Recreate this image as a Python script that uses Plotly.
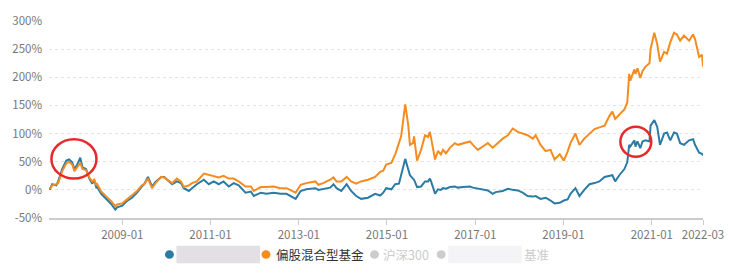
import plotly.graph_objects as go

dates = [
    "2007-05-10", "2007-06-01", "2007-07-04", "2007-07-20", "2007-08-22", "2007-09-25", "2007-10-19",
    "2007-11-13", "2007-12-01", "2007-12-25", "2008-01-19", "2008-02-06", "2008-03-07", "2008-04-03",
    "2008-04-27", "2008-05-13", "2008-06-01", "2008-06-07", "2008-07-10", "2008-08-22", "2008-10-01",
    "2008-11-04", "2008-11-19", "2009-01-01", "2009-02-12", "2009-03-22", "2009-05-03", "2009-06-12",
    "2009-07-01", "2009-08-01", "2009-09-04", "2009-10-07", "2009-11-19", "2009-12-13", "2010-01-22",
    "2010-02-18", "2010-03-28", "2010-05-01", "2010-05-25", "2010-07-06", "2010-08-01", "2010-09-10",
    "2010-11-07", "2010-12-18", "2011-01-28", "2011-03-10", "2011-04-19", "2011-06-01", "2011-07-12",
    "2011-08-22", "2011-10-18", "2011-12-01", "2011-12-25", "2012-02-21", "2012-04-10", "2012-06-06",
    "2012-08-03", "2012-09-21", "2012-12-06", "2013-01-16", "2013-03-04", "2013-05-18", "2013-06-12",
    "2013-07-22", "2013-09-18", "2013-10-15", "2013-11-09", "2013-12-19", "2014-02-01", "2014-03-10",
    "2014-04-21", "2014-06-01", "2014-07-28", "2014-09-25", "2014-11-06", "2014-12-01", "2014-12-25",
    "2015-02-06", "2015-03-10", "2015-04-10", "2015-04-28", "2015-06-01", "2015-06-25", "2015-07-10",
    "2015-08-04", "2015-08-13", "2015-09-07", "2015-10-10", "2015-11-12", "2015-12-07", "2015-12-22",
    "2016-01-01", "2016-02-03", "2016-02-27", "2016-03-22", "2016-04-09", "2016-05-03", "2016-06-06",
    "2016-07-16", "2016-08-10", "2016-09-21", "2016-11-18", "2016-12-12", "2017-01-22", "2017-03-04",
    "2017-04-15", "2017-05-25", "2017-06-19", "2017-08-16", "2017-09-28", "2017-11-07", "2017-12-19",
    "2018-01-28", "2018-03-10", "2018-04-22", "2018-05-16", "2018-06-25", "2018-08-07", "2018-09-16",
    "2018-10-19", "2018-12-01", "2019-01-04", "2019-02-04", "2019-02-28", "2019-04-10", "2019-05-13",
    "2019-06-22", "2019-08-04", "2019-09-15", "2019-10-25", "2019-12-07", "2020-01-16", "2020-02-10",
    "2020-03-04", "2020-04-07", "2020-05-19", "2020-06-12", "2020-06-28", "2020-07-07", "2020-08-10",
    "2020-08-19", "2020-09-04", "2020-09-28", "2020-10-16", "2020-11-10", "2020-12-13", "2020-12-22",
    "2021-01-22", "2021-02-15", "2021-03-10", "2021-04-13", "2021-05-07", "2021-06-03", "2021-07-04",
    "2021-07-28", "2021-08-24", "2021-09-25", "2021-11-06", "2021-12-09", "2021-12-25", "2022-01-28",
    "2022-02-21", "2022-03-01",
]

fund = [
    0, 10, 8, 15, 37, 52, 54,
    49, 37, 45, 57, 40, 37, 20,
    11, 18, 3, 5, -7, -16, -25,
    -35, -31, -28, -19, -14, -5, 6,
    10, 23, 6, 15, 23, 23, 15,
    10, 15, 12, 3, -2, 3, 10,
    18, 10, 15, 10, 15, 6, 12,
    8, -5, -3, -11, -5, -7, -5,
    -7, -7, -16, -2, 1, 3, 0,
    2, 4, 10, 3, -2, 10, -2,
    -11, -16, -14, -7, -10, -5, 3,
    1, 10, 11, 26, 55, 37, 26,
    20, 18, 5, 6, 15, 15, 20,
    15, -7, 1, 0, 3, 2, 5,
    6, 4, 5, 6, 4, 2, 0,
    -1, -7, -4, -2, 2, 0, -1,
    -5, -11, -12, -11, -16, -14, -19,
    -24, -23, -19, -17, -7, 3, -11,
    0, 10, 12, 15, 23, 25, 26,
    15, 26, 37, 49, 80, 77, 88,
    77, 86, 74, 86, 88, 86, 114,
    124, 112, 80, 100, 102, 88, 102,
    100, 83, 80, 88, 90, 80, 66,
    64, 61,
]

category = [
    2, 8, 10, 12, 33, 47, 50,
    45, 33, 40, 48, 37, 35, 22,
    15, 18, 8, 10, -3, -12, -20,
    -29, -26, -24, -16, -10, -2, 8,
    10, 20, 3, 13, 23, 22, 16,
    12, 20, 15, 5, 8, 12, 15,
    29, 27, 25, 22, 25, 20, 20,
    15, 6, 6, -2, 5, 5, 6,
    3, 3, -5, 9, 12, 15, 9,
    12, 18, 22, 15, 15, 23, 15,
    11, 15, 18, 23, 32, 34, 45,
    48, 63, 83, 95, 152, 117, 80,
    83, 95, 52, 71, 97, 94, 103,
    92, 54, 69, 63, 71, 65, 75,
    83, 80, 83, 86, 80, 71, 77,
    83, 75, 80, 91, 97, 109, 103,
    100, 97, 91, 97, 80, 69, 71,
    54, 63, 52, 68, 83, 100, 80,
    91, 100, 108, 111, 114, 131, 139,
    126, 134, 143, 155, 206, 194, 214,
    206, 216, 199, 211, 219, 225, 250,
    279, 259, 228, 245, 242, 262, 279,
    276, 265, 274, 265, 276, 268, 236,
    240, 219,
]

y_ticks = [-50, 0, 50, 100, 150, 200, 250, 300]
y_tick_text = ["-50%", "0%", "50%", "100%", "150%", "200%", "250%", "300%"]
x_tick_vals = ["2009-01-01", "2011-01-01", "2013-01-01", "2015-01-01",
               "2017-01-01", "2019-01-01", "2021-01-01", "2022-03-01"]
x_tick_text = ["2009-01", "2011-01", "2013-01", "2015-01",
               "2017-01", "2019-01", "2021-01", "2022-03"]

legend_names = ["偏股混合型基金", "沪深300", "基准"]

BLUE = "#2b7ba5"
ORANGE = "#f68b1f"
FONT = "Noto Sans CJK SC, Noto Sans, sans-serif"

fig = go.Figure()
fig.add_trace(go.Scatter(x=dates, y=fund, mode="lines",
                         line=dict(color=BLUE, width=2), showlegend=False))
fig.add_trace(go.Scatter(x=dates, y=category, mode="lines",
                         line=dict(color=ORANGE, width=2), showlegend=False))

shapes = []

# red highlight circles (annotation overlays)
shapes.append(dict(type="circle", xref="x", yref="y",
                   x0="2007-05-25", x1="2008-06-01", y0=20, y1=90,
                   line=dict(color="#e8282b", width=2.5)))
shapes.append(dict(type="circle", xref="x", yref="y",
                   x0="2020-04-16", x1="2020-12-28", y0=59, y1=112,
                   line=dict(color="#e8282b", width=2.5)))

# custom legend (pixel-ish positions in paper coordinates)
W, H = 741, 273
L, R, T, B = 46, 38, 13, 55
pw, ph = W - L - R, H - T - B


def px(x):
    return (x - L) / pw


def py(y):
    return (H - B - y) / ph


def dot(cx, cy, color, r=4.5):
    shapes.append(dict(type="circle", xref="paper", yref="paper",
                       x0=px(cx - r), x1=px(cx + r), y0=py(cy + r), y1=py(cy - r),
                       fillcolor=color, line=dict(width=0)))


def blur(x0, x1, cy, color):
    shapes.append(dict(type="rect", xref="paper", yref="paper",
                       x0=px(x0), x1=px(x1), y0=py(cy + 9), y1=py(cy - 9),
                       fillcolor=color, line=dict(width=0), opacity=0.7))


dot(167, 256, BLUE)
blur(174, 258, 256, "#d6d2da")
dot(264, 256, ORANGE)
dot(373, 256, "#cccccc")
dot(440, 256, "#cccccc")
blur(447, 521, 256, "#efeef1")

annotations = [
    dict(xref="paper", yref="paper", x=px(272), y=py(256), xanchor="left", yanchor="middle",
         text=legend_names[0], showarrow=False, font=dict(size=12.5, color="#333333", family=FONT)),
    dict(xref="paper", yref="paper", x=px(380), y=py(256), xanchor="left", yanchor="middle",
         text=legend_names[1], showarrow=False, font=dict(size=12.5, color="#cccccc", family=FONT)),
    dict(xref="paper", yref="paper", x=px(521), y=py(256), xanchor="left", yanchor="middle",
         text=legend_names[2], showarrow=False, font=dict(size=12.5, color="#cccccc", family=FONT)),
]

fig.update_layout(
    width=W, height=H,
    margin=dict(l=L, r=R, t=T, b=B, pad=0),
    paper_bgcolor="white", plot_bgcolor="white",
    shapes=shapes, annotations=annotations,
    showlegend=False,
    font=dict(family=FONT, size=11, color="#777777"),
    xaxis=dict(type="date", range=["2007-05-05", "2022-03-01"],
               tickvals=x_tick_vals, ticktext=x_tick_text,
               showgrid=False, zeroline=False,
               showline=True, linecolor="#cccccc", linewidth=2,
               ticks="outside", ticklen=5, tickcolor="#cccccc", tickwidth=1,
               tickfont=dict(size=11.5, color="#777777")),
    yaxis=dict(range=[-50, 300], tickvals=y_ticks, ticktext=y_tick_text,
               showgrid=True, gridcolor="#e4e4e4", gridwidth=1, griddash="dot",
               zeroline=False, showline=False,
               ticks="", ticklabelstandoff=6,
               tickfont=dict(size=11.5, color="#777777")),
)

fig.write_html("out.html")
